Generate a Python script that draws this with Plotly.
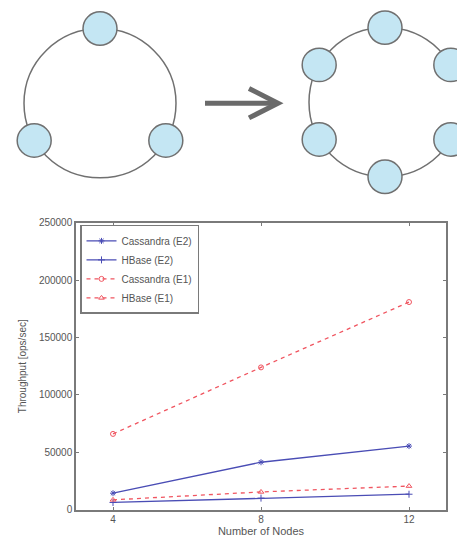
import math
import plotly.graph_objects as go

# ---- data ----
nodes = [4, 8, 12]
cassandra_e2 = [14300, 41300, 55400]
hbase_e2 = [6200, 10000, 13400]
cassandra_e1 = [66000, 124000, 181000]
hbase_e1 = [8500, 15400, 20500]
series_names = ["Cassandra (E2)", "HBase (E2)", "Cassandra (E1)", "HBase (E1)"]
y_ticks = [0, 50000, 100000, 150000, 200000, 250000]

W, H = 457, 546
BLUE = "#4a4db5"
RED = "#f05560"
GRAY = "#7a7a7a"
TXT = "#555555"

fig = go.Figure()
styles = [
    (cassandra_e2, BLUE, "solid", "asterisk-open"),
    (hbase_e2, BLUE, "solid", "cross-thin-open"),
    (cassandra_e1, RED, "4px,4px", "circle-open"),
    (hbase_e1, RED, "4px,4px", "triangle-up-open"),
]
for name, (vals, col, dash, sym) in zip(series_names, styles):
    fig.add_trace(go.Scatter(
        x=nodes, y=vals, name=name, mode="lines+markers",
        line=dict(color=col, width=1.3, dash=dash),
        marker=dict(symbol=sym, size=5, color=col, line=dict(color=col, width=1)),
    ))

def px_x(p):
    return p / W

def px_y(p):
    return 1 - p / H

# main plot domain in pixels: x 76..446, y 222..514
fig.update_layout(
    width=W, height=H,
    margin=dict(l=0, r=0, t=0, b=0),
    paper_bgcolor="white", plot_bgcolor="white",
    font=dict(family="Liberation Sans, Arial", size=10, color=TXT),
    showlegend=True,
    legend=dict(
        x=px_x(80), y=px_y(224), xanchor="left", yanchor="top",
        bordercolor=GRAY, borderwidth=1.5, bgcolor="white",
        font=dict(size=10, color=TXT), tracegroupgap=0,
        itemwidth=30,
    ),
    xaxis=dict(
        domain=[px_x(76), px_x(446)], range=[3, 13],
        tickvals=nodes, ticks="inside", ticklen=3, tickcolor=GRAY,
        showline=True, linecolor=GRAY, linewidth=1.5, mirror="ticks",
        showgrid=False, zeroline=False,
        title=dict(text="Number of Nodes", font=dict(size=11, color=TXT), standoff=2),
        tickfont=dict(size=10, color=TXT),
    ),
    yaxis=dict(
        domain=[px_y(514), px_y(222)], range=[0, 250000],
        tickvals=y_ticks, ticktext=[str(v) for v in y_ticks],
        ticks="inside", ticklen=3, tickcolor=GRAY,
        showline=True, linecolor=GRAY, linewidth=1.5, mirror="ticks",
        showgrid=False, zeroline=False,
        title=dict(text="Throughput [ops/sec]", font=dict(size=10, color=TXT), standoff=10),
        tickfont=dict(size=10, color=TXT),
    ),
)

# ---- top diagram (decorative) ----
shapes = []
RING = "#707070"
NODE_FILL = "#c4e6f3"

def circle(cx, cy, r, fill=None, lw=1.5):
    return dict(type="circle", xref="paper", yref="paper",
                x0=px_x(cx - r), x1=px_x(cx + r),
                y0=px_y(cy + r), y1=px_y(cy - r),
                line=dict(color=RING, width=lw),
                fillcolor=fill if fill else "rgba(0,0,0,0)", layer="above")

# left ring with 3 nodes
lc, lr = (100, 100), 76
shapes.append(circle(lc[0], lc[1], lr))
for ang in [90, 210, 330]:
    a = math.radians(ang)
    shapes.append(circle(lc[0] + lr * math.cos(a), lc[1] - lr * math.sin(a), 17, NODE_FILL))

# right ring with 6 nodes
rc, rr = (385, 99), 76
shapes.append(circle(rc[0], rc[1], rr))
for ang in [90, 150, 210, 270, 330, 30]:
    a = math.radians(ang)
    shapes.append(circle(rc[0] + rr * math.cos(a), rc[1] - rr * math.sin(a), 17, NODE_FILL))

# arrow
AR = "#6a6a6a"
shapes.append(dict(type="line", xref="paper", yref="paper",
                   x0=px_x(205), x1=px_x(275), y0=px_y(100), y1=px_y(100),
                   line=dict(color=AR, width=5)))
shapes.append(dict(type="path", xref="paper", yref="paper",
                   path=f"M {px_x(249)},{px_y(85)} L {px_x(278)},{px_y(100)} L {px_x(249)},{px_y(115)}",
                   line=dict(color=AR, width=5)))

fig.update_layout(shapes=shapes)

fig.write_html("out.html", config={"displayModeBar": False},
               post_script="document.body.style.margin='0';")
